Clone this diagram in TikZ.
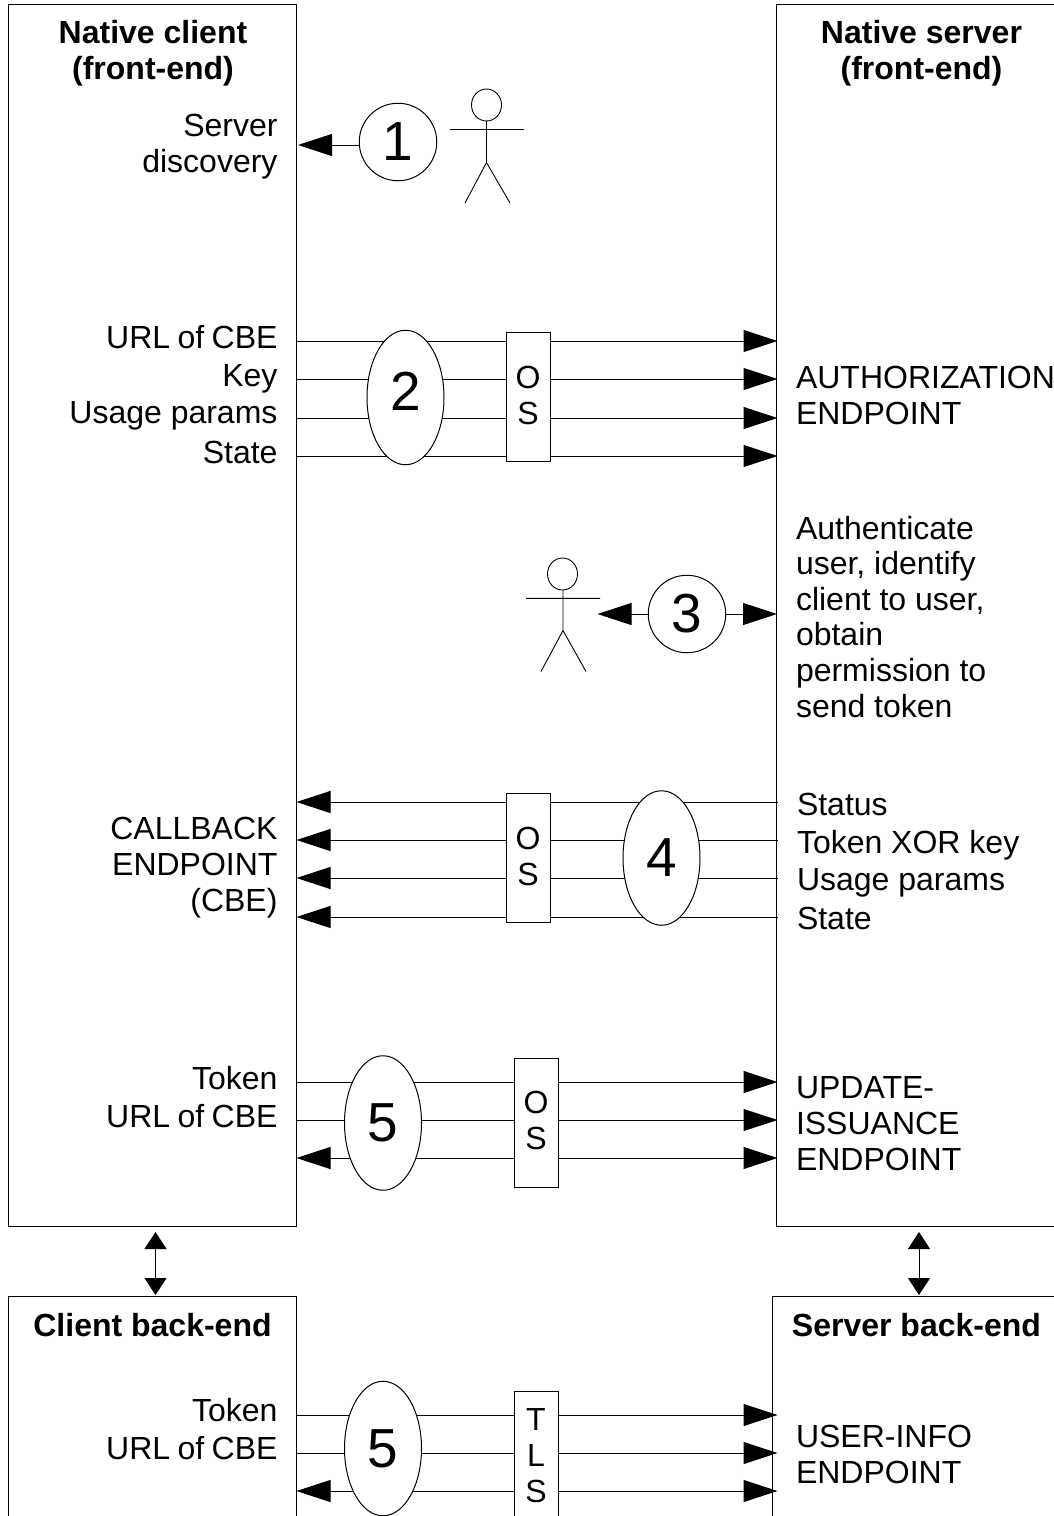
\documentclass[tikz,border=0pt]{standalone}
\usepackage{fontspec}
\setmainfont{Liberation Sans}
\usetikzlibrary{arrows.meta,shapes.geometric}
\newcommand\liftbox{\rule[-3.5pt]{0pt}{3.5pt}}
\newcommand\urlcbe{URL\kern-1.5pt{} of\kern-1.5pt{} CBE}
\tikzset{
  bigarrow/.tip={Triangle[length=34pt,width=22pt]},
  vertarrow/.tip={Triangle[length=17pt,width=22pt]},
  wirer/.style={draw,-bigarrow},
  wirel/.style={draw,bigarrow-},
  wireb/.style={draw,bigarrow-bigarrow},
  vlink/.style={draw,vertarrow-vertarrow},
  panel/.style={draw,fill=white,rectangle,inner sep=0pt,anchor=north west},
  stepoval/.style={draw,fill=white,ellipse,inner sep=0pt,font=\fontsize{55}{60}\selectfont},
  channel/.style={draw,fill=white,rectangle,inner sep=0pt,minimum width=44pt,align=center,font=\fontsize{32}{36}\selectfont},
  lbl/.style={inner sep=0pt,font=\fontsize{32}{35.6}\selectfont},
  rlab/.style={lbl,align=right,anchor=base east},
  llab/.style={lbl,align=left,anchor=base west},
  title/.style={inner sep=0pt,align=center,anchor=base,font=\bfseries\fontsize{32}{36}\selectfont},
  actorline/.style={draw,line width=.9pt},
}
\begin{document}
\begin{tikzpicture}[x=1pt,y=-1pt,line width=1pt]
\useasboundingbox (0,0) rectangle (1054,1516);
\clip (0,0) rectangle (1054,1516);
% panels
\node[panel,minimum width=288pt,minimum height=1222pt] (cf) at (8,4) {};
\node[panel,minimum width=300pt,minimum height=1222pt] (sf) at (776,4) {};
\node[panel,minimum width=288pt,minimum height=300pt] (cb) at (8,1296) {};
\node[panel,minimum width=300pt,minimum height=300pt] (sb) at (771.5,1296) {};
% anchors on panel edges
\foreach \n/\y in {a/341,b/379,c/418,d/456,e/802,f/840,g/878,h/917,i/1082,j/1120,k/1158,m/1415,n/1453,o/1491}{
  \coordinate (L\n) at (296.5,\y);
  \coordinate (R\n) at (777.5,\y);
}
\coordinate (Lz) at (298,145);
\coordinate (Rz) at (777,614);
\coordinate (Az) at (597.5,614);
\coordinate (vlt) at (155.5,1232);
\coordinate (vlb) at (155.5,1295);
\coordinate (vrt) at (919,1232);
\coordinate (vrb) at (919,1295);
% connectors
\foreach \n in {a,b,c,d,i,j,m,n}{ \path[wirer] (L\n) -- (R\n); }
\foreach \n in {e,f,g,h}{ \path[wirel] (L\n) -- (R\n); }
\foreach \n in {k,o}{ \path[wireb] (L\n) -- (R\n); }
\path[vlink] (vlt) -- (vlb);
\path[vlink] (vrt) -- (vrb);
% step ovals
\node[stepoval,minimum width=77.5pt,minimum height=77.5pt] (s1) at (398,142) {1};
\node[stepoval,minimum width=77pt,minimum height=134.5pt] (s2) at (405.5,397.5) {\raisebox{12pt}{2}};
\node[stepoval,minimum width=77.5pt,minimum height=77.5pt] (s3) at (687,614) {3};
\node[stepoval,minimum width=77pt,minimum height=134.5pt] (s4) at (661.5,858) {4};
\node[stepoval,minimum width=77pt,minimum height=134.5pt] (s5) at (383,1123) {5};
\node[stepoval,minimum width=77pt,minimum height=134.5pt] (s6) at (383,1448.5) {5};
\path[wirel] (Lz) -- (Lz -| s1.west);
\path[wirel] (Az) -- (s3);
\path[wirer] (s3) -- (Rz);
% channels
\node[channel,minimum height=129pt] (os2) at (528,397) {O\\S\liftbox};
\node[channel,minimum height=129pt] (os4) at (528,858) {O\\S\liftbox};
\node[channel,minimum height=129pt] (os5) at (536,1122.5) {O\\S\liftbox};
\node[channel,minimum height=130pt] (tls) at (536,1456) {T\\L\\S};
% actors
\draw[actorline] (486.5,105) ellipse (15pt and 16pt);
\draw[actorline] (486.5,121) -- (486.5,162.5) (450,129.5) -- (524,129.5) (465,203) -- (486.5,162.5) -- (510,203);
\draw[actorline] (562.5,574) ellipse (15pt and 16pt);
\draw[actorline] (563,590) -- (563,630.5) (526,598.3) -- (600,598.3) (541,671.5) -- (563,630.5) -- (586,671.5);
% titles
\node[title] (t1) at (153,79) {Native client\\(front-end)};
\node[title] (t2) at (921.5,79) {Native server\\(front-end)};
\node[title] (t3) at (152.5,1336) {Client back-end};
\node[title] (t4) at (916.5,1336) {Server back-end};
% left labels
\node[rlab] (l1) at (278,172) {Server\\discovery};
\node[rlab] (l2) at (278,348) {\urlcbe};
\node[rlab] (l3) at (278,386) {Key};
\node[rlab] (l4) at (278,423) {Usage params};
\node[rlab] (l5) at (278,463) {State};
\node[rlab] (l6) at (278,911) {CALLBACK\\ENDPOINT\\(CBE)};
\node[rlab] (l7) at (278,1089) {Token};
\node[rlab] (l8) at (278,1127) {\urlcbe};
\node[rlab] (l9) at (278,1421) {Token};
\node[rlab] (l10) at (278,1459) {\urlcbe};
% right labels
\node[llab] (r1) at (795.5,424) {AUTHORIZATION\\ENDPOINT};
\node[llab] (r2) at (795.5,717) {Authenticate\\user, identify\\client to user,\\obtain\\permission to\\send token};
\node[llab] (r3) at (796.5,815) {Status};
\node[llab] (r4) at (796.5,853) {Token XOR key};
\node[llab] (r5) at (796.5,890) {Usage params};
\node[llab] (r6) at (796.5,929) {State};
\node[llab] (r7) at (795.5,1170) {UPDATE-\\ISSUANCE\\ENDPOINT};
\node[llab] (r8) at (795.5,1483) {USER-INFO\\ENDPOINT};
\end{tikzpicture}
\end{document}
